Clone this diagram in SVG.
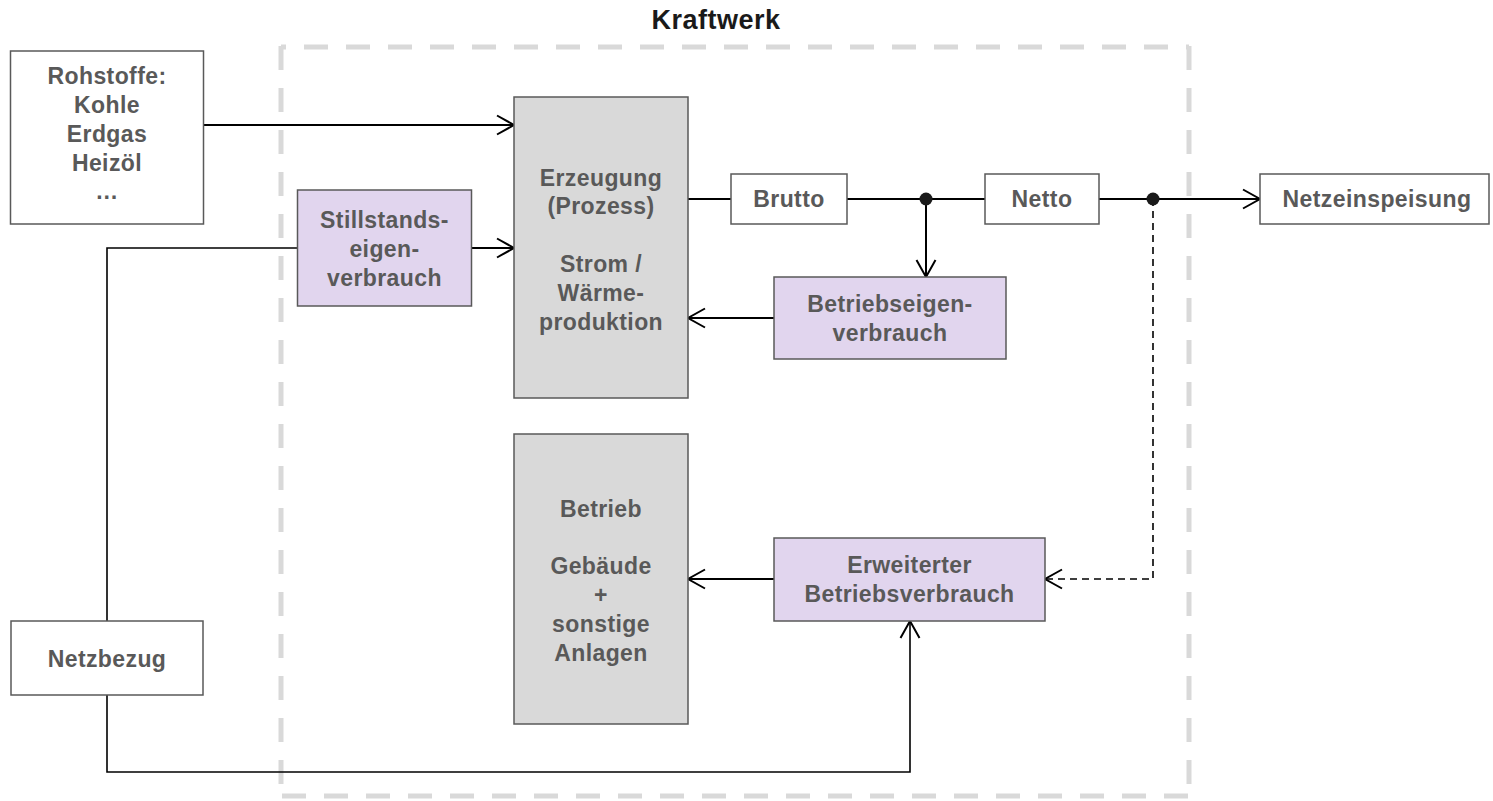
<svg xmlns="http://www.w3.org/2000/svg" width="1493" height="801" viewBox="0 0 1493 801">
<style>
.box{stroke:#595959;stroke-width:1.5}
.w{fill:#ffffff}
.g{fill:#d9d9d9}
.p{fill:#e1d5ee}
.t{font-family:"Liberation Sans",Arial,sans-serif;font-weight:bold;font-size:23px;fill:#595959;text-anchor:middle;letter-spacing:0.4px}
.title{font-family:"Liberation Sans",Arial,sans-serif;font-weight:bold;font-size:27px;fill:#1a1a1a;text-anchor:middle;letter-spacing:0.5px}
.frame{stroke:#d9d9d9;stroke-width:5;fill:none;stroke-dasharray:24 18}
.c{stroke:#000;stroke-width:2;fill:none}
.c1{stroke:#000;stroke-width:1.6;fill:none}
.d{stroke:#000;stroke-width:1.6;fill:none;stroke-dasharray:7 5}
</style>
<defs>
<marker id="arr" markerUnits="userSpaceOnUse" markerWidth="40" markerHeight="40" viewBox="-20 -20 40 40" refX="0" refY="0" orient="auto">
<path d="M-17,-9.5 L0,0 L-17,9.5" fill="none" stroke="#000" stroke-width="2"/>
</marker>
</defs>

<g id="frame">
<path class="frame" d="M281,47 H1189" stroke-dashoffset="19"/>
<path class="frame" d="M281,46 V796" stroke-dasharray="22 20"/>
<path class="frame" d="M1189,46 V796" stroke-dasharray="22 20"/>
<path class="frame" d="M282,796 H1189"/>
<text class="title" x="716" y="29">Kraftwerk</text>
</g>

<g id="connectors">
<path class="c" d="M204,125 H514" marker-end="url(#arr)"/>
<path class="c1" d="M107,621 V248 H297"/>
<path class="c" d="M472,248 H514" marker-end="url(#arr)"/>
<path class="c" d="M688,199 H731"/>
<path class="c" d="M847,199 H985"/>
<path class="c" d="M926,199 V277" marker-end="url(#arr)"/>
<path class="c" d="M1099,199 H1260" marker-end="url(#arr)"/>
<path class="d" d="M1153,199 V579 H1045" marker-end="url(#arr)"/>
<path class="c" d="M774,318 H688" marker-end="url(#arr)"/>
<path class="c" d="M774,579 H688" marker-end="url(#arr)"/>
<path class="c1" d="M107,695 V772 H910 V621" marker-end="url(#arr)"/>
<circle cx="926" cy="199" r="6.5" fill="#1a1a1a"/>
<circle cx="1153" cy="199" r="6.5" fill="#1a1a1a"/>
</g>

<g id="rohstoffe">
<rect class="box w" x="10.5" y="51" width="193" height="173"/>
<text class="t" x="107" y="84">Rohstoffe:</text>
<text class="t" x="107" y="113">Kohle</text>
<text class="t" x="107" y="142">Erdgas</text>
<text class="t" x="107" y="171">Heizöl</text>
<text class="t" x="107" y="199">…</text>
</g>

<g id="stillstand">
<rect class="box p" x="297.5" y="190" width="174" height="116"/>
<text class="t" x="384.5" y="228">Stillstands-</text>
<text class="t" x="384.5" y="257">eigen-</text>
<text class="t" x="384.5" y="286">verbrauch</text>
</g>

<g id="erzeugung">
<rect class="box g" x="514" y="97" width="174" height="301"/>
<text class="t" x="601" y="186">Erzeugung</text>
<text class="t" x="601" y="214">(Prozess)</text>
<text class="t" x="601" y="272">Strom /</text>
<text class="t" x="601" y="301">Wärme-</text>
<text class="t" x="601" y="330">produktion</text>
</g>

<g id="brutto">
<rect class="box w" x="731" y="174" width="116" height="50"/>
<text class="t" x="789" y="207">Brutto</text>
</g>

<g id="netto">
<rect class="box w" x="985" y="174" width="114" height="50"/>
<text class="t" x="1042" y="207">Netto</text>
</g>

<g id="netzeinspeisung">
<rect class="box w" x="1260" y="174" width="229" height="50"/>
<text class="t" x="1377" y="207">Netzeinspeisung</text>
</g>

<g id="betriebseigen">
<rect class="box p" x="774" y="277" width="232" height="82"/>
<text class="t" x="890" y="312">Betriebseigen-</text>
<text class="t" x="890" y="341">verbrauch</text>
</g>

<g id="betrieb">
<rect class="box g" x="514" y="434" width="174" height="290"/>
<text class="t" x="601" y="517">Betrieb</text>
<text class="t" x="601" y="574">Gebäude</text>
<text class="t" x="601" y="603">+</text>
<text class="t" x="601" y="632">sonstige</text>
<text class="t" x="601" y="661">Anlagen</text>
</g>

<g id="erweiterter">
<rect class="box p" x="774" y="538" width="271" height="83"/>
<text class="t" x="909.5" y="573">Erweiterter</text>
<text class="t" x="909.5" y="602">Betriebsverbrauch</text>
</g>

<g id="netzbezug">
<rect class="box w" x="11" y="621" width="192" height="74"/>
<text class="t" x="107" y="667">Netzbezug</text>
</g>
</svg>
